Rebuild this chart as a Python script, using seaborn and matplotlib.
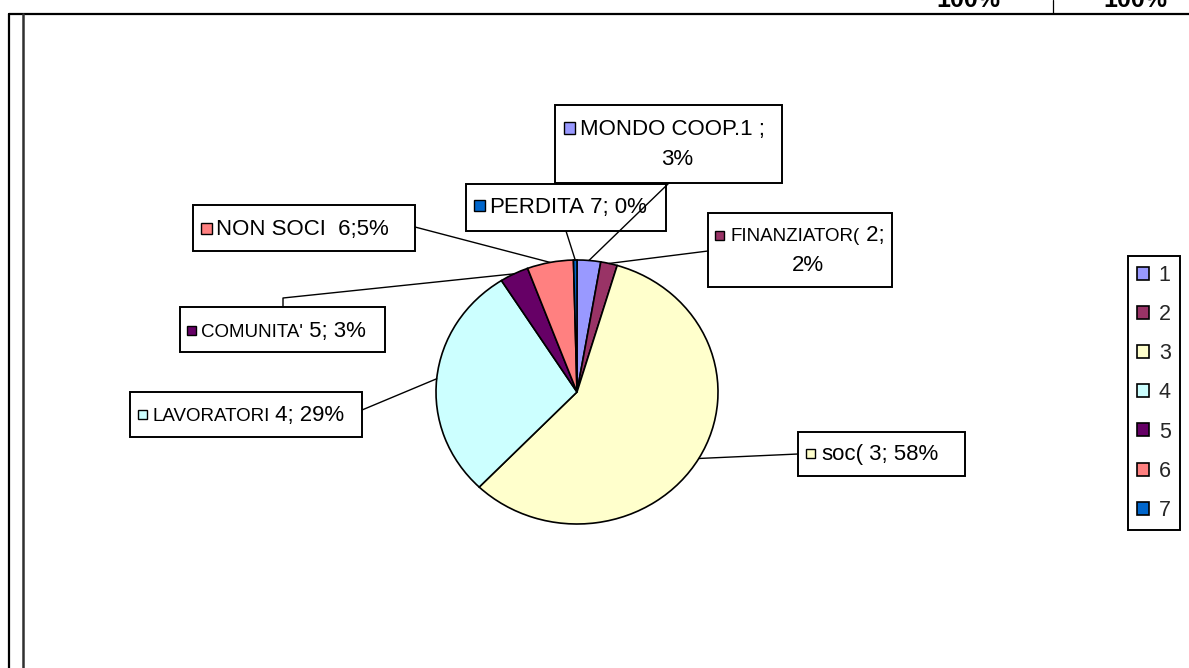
import matplotlib
matplotlib.use("Agg")
import matplotlib.pyplot as plt
import seaborn as sns
import numpy as np
from matplotlib.patches import Rectangle
from matplotlib.lines import Line2D

# ---------------- data ----------------
legend_labels = ["1", "2", "3", "4", "5", "6", "7"]
values = [2.7, 1.9, 57.6, 28.8, 3.3, 5.3, 0.4]
percent_labels = ["3%", "2%", "58%", "29%", "3%", "5%", "0%"]
colors = ["#9999FF", "#993366", "#FFFFCC", "#CCFFFF", "#660066", "#FF8080", "#0066CC"]
# visible label name parts (as printed on the chart), with a flag for the small font
label_heads = [("MONDO COOP.1 ;", False), ("FINANZIATOR(", True), ("soc(", False),
               ("LAVORATORI", True), ("COMUNITA'", True), ("NON SOCI ", False),
               ("PERDITA", False)]
header_texts = ["100%", "100%"]

W, H = 1189, 668
sns.set_theme(style="white")
plt.rcParams['font.family'] = ['Liberation Sans', 'DejaVu Sans']

fig = plt.figure(figsize=(W / 100, H / 100), dpi=100)
fig.patch.set_facecolor("white")


def fx(x):
    return x / W


def fy(y):
    return 1 - y / H


BIG = 16
SMALL = 13.5

# ---------------- pie ----------------
cx, cy, rx, ry = 577, 392, 141, 132
ax = fig.add_axes([fx(cx - rx), fy(cy + ry), 2 * rx / W, 2 * ry / H])
wedges, _ = ax.pie(values, colors=colors, startangle=90, counterclock=False,
                   wedgeprops=dict(edgecolor="black", linewidth=1.2))
ax.set_aspect("auto")
ax.set_xlim(-1, 1)
ax.set_ylim(-1, 1)
ax.axis("off")
fig.canvas.draw()
renderer = fig.canvas.get_renderer()


def anchor(i):
    w = wedges[i]
    th = np.deg2rad((w.theta1 + w.theta2) / 2)
    px, py = ax.transData.transform((np.cos(th), np.sin(th)))
    return px / W, py / H


# ---------------- label boxes (layout in pixels, top-left origin) ----------------
layout = {
    0: dict(box=(555, 105, 782, 183), mk=(564, 128, 11), tx=580, base=135,
            line2=(677, 165), path=[(669, 183)]),
    6: dict(box=(466, 184, 666, 231), mk=(474, 206, 11), tx=489, base=213,
            line2=None, path=[(566, 231)]),
    1: dict(box=(708, 213, 892, 287), mk=(715, 236, 9), tx=731, base=241,
            line2=(808, 271), path=[(708, 251)]),
    5: dict(box=(193, 205, 415, 251), mk=(201, 228, 11), tx=216, base=235,
            line2=None, path=[(415, 227)]),
    4: dict(box=(180, 307, 385, 352), mk=(187, 330, 9), tx=201, base=337,
            line2=None, path=[(283, 298), (283, 307)]),
    3: dict(box=(130, 392, 362, 437), mk=(138, 414, 9), tx=152, base=421,
            line2=None, path=[(362, 410)]),
    2: dict(box=(798, 432, 965, 476), mk=(806, 453, 9), tx=821, base=460,
            line2=None, path=[(798, 454)]),
}

order = [5, 4, 3, 2, 1, 0, 6]
for i in order:
    L = layout[i]
    x0, y0, x1, y1 = L["box"]
    fig.add_artist(Rectangle((fx(x0), fy(y1)), (x1 - x0) / W, (y1 - y0) / H,
                             transform=fig.transFigure, facecolor="white",
                             edgecolor="black", linewidth=1.4, zorder=2 + order.index(i) * 0.01))
    mx, myc, ms = L["mk"]
    fig.add_artist(Rectangle((fx(mx), fy(myc + ms / 2)), ms / W, ms / H,
                             transform=fig.transFigure, facecolor=colors[i],
                             edgecolor="black", linewidth=1.0, zorder=4))
    head, small = label_heads[i]
    if L["line2"] is None:
        pieces = [(head, SMALL if small else BIG),
                  (f" {legend_labels[i]}; {percent_labels[i]}" if i != 5
                   else f" {legend_labels[i]};{percent_labels[i]}", BIG)]
    elif i == 0:
        pieces = [(head, BIG)]
    else:
        pieces = [(head, SMALL if small else BIG), (f" {legend_labels[i]};", BIG)]
    cur = L["tx"]
    for s, size in pieces:
        t = fig.text(fx(cur), fy(L["base"]), s, fontsize=size, ha="left",
                     va="baseline", color="black", zorder=5)
        cur += t.get_window_extent(renderer).width
    if L["line2"] is not None:
        lx, lb = L["line2"]
        fig.text(fx(lx), fy(lb), percent_labels[i], fontsize=BIG, ha="center",
                 va="baseline", color="black", zorder=5)
    # leader
    ax0, ay0 = anchor(i)
    xs = [ax0] + [fx(p[0]) for p in L["path"]]
    ys = [ay0] + [fy(p[1]) for p in L["path"]]
    fig.add_artist(Line2D(xs, ys, transform=fig.transFigure, color="black",
                          linewidth=1.0, zorder=3.5))

# ---------------- legend ----------------
leg = fig.legend(wedges, legend_labels, loc="center",
                 bbox_to_anchor=(fx(1154), fy(393)), frameon=True, fancybox=False,
                 shadow=False, edgecolor="black", facecolor="white", framealpha=1,
                 fontsize=15.5, handlelength=0.55, handleheight=0.55, handletextpad=0.45,
                 labelspacing=0.84, borderpad=0.45, borderaxespad=0)
leg.get_frame().set_linewidth(1.4)

# ---------------- frame / header remnants ----------------
fig.add_artist(Line2D([fx(9), fx(1189)], [fy(13.5), fy(13.5)], transform=fig.transFigure,
                      color="black", linewidth=1.6))
fig.add_artist(Line2D([fx(9), fx(9)], [fy(13.5), fy(668)], transform=fig.transFigure,
                      color="black", linewidth=1.6))
fig.add_artist(Line2D([fx(23), fx(23)], [fy(13.5), fy(668)], transform=fig.transFigure,
                      color="#303030", linewidth=1.8))
fig.add_artist(Line2D([fx(1053), fx(1053)], [fy(0), fy(13)], transform=fig.transFigure,
                      color="black", linewidth=0.9))
for xc, s in zip([968, 1135], header_texts):
    fig.text(fx(xc), fy(7), s, fontsize=18, fontweight="bold", ha="center",
             va="baseline", color="black")

fig.savefig("out.png", dpi=100)
